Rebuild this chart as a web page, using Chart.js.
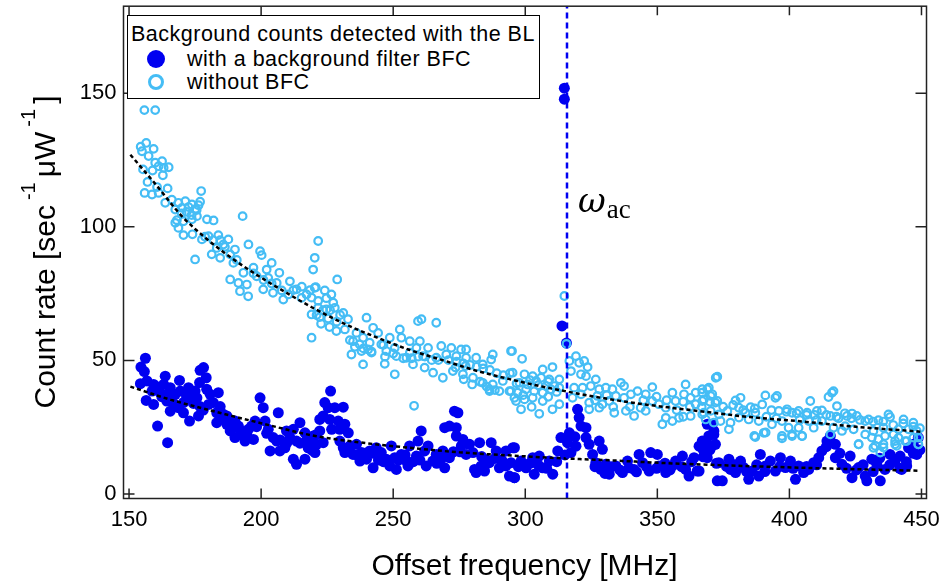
<!DOCTYPE html>
<html>
<head>
<meta charset="utf-8">
<script src="https://cdn.jsdelivr.net/npm/chart.js@4.4.1/dist/chart.umd.min.js"></script>
<style>
  body { margin: 0; background: #fff; }
  #wrap { position: relative; width: 943px; height: 581px; overflow: hidden; }
  #plot { position: absolute; left: 0; top: 0; }
  .txt { position: absolute; font-family: "Liberation Sans", Arial, sans-serif; color: #000; white-space: nowrap; }
  #legend { position: absolute; left: 127px; top: 15px; width: 411px; height: 82px; border: 1px solid #000; background: #fff; }
  #legend .txt { font-size: 21.5px; line-height: 22px; letter-spacing: 0.5px; }
  .dot { position: absolute; border-radius: 50%; box-sizing: border-box; }
  #ytitle { left: -165px; top: 232px; width: 420px; height: 40px; line-height: 40px; font-size: 30px; text-align: center; transform: rotate(-90deg); }
  #ytitle sup { font-size: 20px; vertical-align: baseline; position: relative; top: -20px; margin: 0 5px 0 5px; }
  #xtitle { left: 123px; top: 549px; width: 803px; font-size: 30px; line-height: 32px; text-align: center; }
  #omega { left: 578px; top: 180px; font-family: "DejaVu Serif", "Liberation Serif", serif; font-size: 34px; }
  #omega i { font-style: italic; }
  #omega span { font-family: "Liberation Serif", serif; font-size: 27px; position: relative; top: 6px; margin-left: 1px; }
</style>
</head>
<body>
<div id="wrap">
  <canvas id="plot" width="943" height="581"></canvas>
  <div id="legend">
    <div class="txt" style="left:3px;top:7px;">Background counts detected with the BL</div>
    <div class="dot" style="left:19px;top:34px;width:18px;height:18px;background:#0000f0;"></div>
    <div class="txt" style="left:59px;top:32px;">with a background filter BFC</div>
    <div class="dot" style="left:20px;top:58px;width:16px;height:16px;border:3px solid #45bdf5;"></div>
    <div class="txt" style="left:59px;top:55px;">without BFC</div>
  </div>
  <div id="ytitle" class="txt">Count rate [sec<sup>-1</sup>μW<sup>-1</sup>]</div>
  <div id="xtitle" class="txt">Offset frequency [MHz]</div>
  <div id="omega" class="txt"><i>ω</i><span>ac</span></div>
</div>
<script>
// axis ranges and ticks
const X_MIN = 147.9, X_MAX = 451.9;
const Y_MIN = -1.7, Y_MAX = 182.6;
const xTicks = [150, 200, 250, 300, 350, 400, 450];
const yTicks = [0, 50, 100, 150];

// acoustic frequency marker
const OMEGA_AC = 315.8;

// with a background filter BFC (filled)
const freqWithBFC = [
  156.2,154.5,155.8,154.3,156.8,159.3,156.5,159.3,160.8,164.6,
  158.7,161.8,163.7,163.1,165.6,164.3,165.6,167.5,169.1,169.4,
  170.6,168.7,170.6,172.5,173.8,175.0,175.7,172.9,176.3,176.9,
  178.2,176.7,179.2,179.4,180.7,180.1,181.9,183.8,183.2,183.2,
  185.7,187.0,187.0,188.3,190.1,191.4,190.1,192.7,193.9,195.2,
  196.4,197.1,197.7,199.6,200.8,201.5,206.5,202.7,204.6,203.4,
  205.9,207.1,209.0,209.6,212.2,214.7,210.9,213.4,216.6,217.8,
  212.2,213.4,216.6,219.7,221.0,222.2,
  226.3,224.1,225.4,227.9,231.1,223.5,226.0,229.2,231.7,229.8,
  233.0,226.7,222.2,219.7,221.0,220.4,223.5,229.8,231.1,233.6,
  236.1,231.7,234.8,238.0,237.4,239.9,242.4,241.1,243.6,245.5,
  247.4,249.3,248.7,251.2,250.6,253.1,255.0,256.2,255.6,258.8,
  259.4,260.6,261.9,263.2,262.5,265.0,266.3,268.8,269.5,271.3,
  269.5,271.3,273.9,273.2,274.5,273.9,276.4,275.8,277.6,280.2,
  278.9,282.7,280.8,283.3,281.4,284.6,286.4,287.1,289.0,290.2,
  292.7,292.7,295.9,294.0,295.9,
  295.3,294.6,295.9,298.4,300.3,302.8,305.3,306.6,303.4,309.1,
  310.4,312.3,313.5,316.7,316.0,317.3,319.2,319.8,320.4,321.1,
  323.0,323.0,324.2,325.5,328.0,329.2,326.7,328.6,330.5,331.8,
  334.3,336.8,338.7,339.3,341.2,343.1,344.4,346.9,347.5,350.0,
  350.6,353.2,355.7,356.9,359.5,360.7,362.0,363.9,365.1,365.8,
  367.0,369.5,370.8,372.0,372.7,
  368.3,371.4,370.8,368.9,365.8,374.6,373.3,377.1,377.7,379.6,
  381.5,382.7,384.6,385.9,389.0,388.4,390.9,392.8,394.7,396.6,
  398.5,400.4,402.3,403.5,405.4,407.3,409.2,411.1,412.3,414.2,
  415.5,417.4,417.4,419.9,423.0,423.7,426.2,428.7,429.3,431.2,
  433.1,434.4,436.2,438.1,440.0,441.9,442.5,444.4,445.1,446.9,
  448.8,448.2,
  314.8,314.8,313.9,315.6,368.9,371.4,
  160.5,162.4,164.9,166.8,171.8,174.4,176.9,178.1,184.5,185.7,
  189.5,192.0,194.6,198.3,202.1,207.2,209.7,214.7,217.3,219.2,
  233.6,236.2,239.3,242.5,244.4,246.3,252.0,254.5,257.6,260.1,
  266.5,268.3,272.8,275.3,283.5,285.4,288.5,291.1,
  297.4,301.8,304.9,308.1,311.9,315.0,318.8,326.4,330.2,332.7,
  335.8,342.1,345.9,349.7,352.9,354.8,359.2,363.0,367.4,369.9,
  367.4,369.9,372.4,376.2,379.3,383.8,387.6,390.7,396.4,401.4,
  406.5,410.3,414.0,419.1,421.6,425.4,427.9,431.7,434.2,438.0,
  441.8,444.3,446.9,449.4
];
const rateWithBFC = [
  50.8,47.5,45.8,41.3,42.3,41.0,35.0,33.5,25.4,19.2,
  38.5,37.9,44.1,41.0,39.8,34.8,31.0,37.3,42.5,38.5,
  34.2,32.3,30.4,39.8,37.3,38.5,36.0,27.3,29.2,46.3,
  47.3,41.7,43.5,39.2,37.3,33.5,34.2,37.9,30.4,26.7,
  29.8,29.2,26.1,23.6,27.3,25.4,21.1,22.3,19.8,24.2,
  25.4,20.4,27.3,36.0,32.3,27.3,30.4,24.2,21.1,16.1,
  19.8,16.1,17.3,23.6,24.2,26.7,21.1,19.8,22.9,17.3,
  13.0,11.1,13.0,19.8,22.3,27.9,
  38.5,34.2,32.3,32.3,32.5,29.2,27.9,27.3,26.1,24.2,
  22.9,24.2,23.6,21.7,18.6,15.5,19.2,19.8,17.3,18.0,
  18.6,15.5,14.8,15.5,12.3,13.0,9.8,16.1,17.3,15.5,
  13.0,18.0,10.5,9.2,13.6,14.8,12.3,18.0,10.5,14.2,
  19.8,23.6,16.1,18.0,10.5,12.3,14.8,16.1,9.8,13.6,
  24.8,25.4,24.8,31.0,30.4,21.7,20.4,18.0,14.8,15.5,
  18.6,19.2,9.2,10.5,8.0,8.6,11.7,19.2,16.1,9.8,
  16.1,10.5,17.3,6.7,6.1,
  17.3,11.7,6.1,12.3,9.8,13.6,14.2,9.8,7.4,12.3,
  7.4,16.1,21.1,22.9,19.2,15.5,17.9,31.7,28.6,25.4,
  24.8,21.1,18.6,14.8,19.8,16.7,11.7,9.2,11.1,7.4,
  10.5,8.0,12.3,9.8,9.2,14.8,11.7,8.6,15.5,14.8,
  10.5,8.0,10.5,12.3,14.2,9.2,6.7,13.6,8.6,17.9,
  19.8,21.7,26.1,18.6,4.9,
  18.6,22.3,18.0,13.6,8.6,4.9,11.7,13.0,9.2,8.0,
  12.3,9.9,5.5,8.6,14.8,6.7,10.5,12.3,8.6,13.6,
  9.9,12.3,5.5,10.5,8.0,9.2,11.7,13.6,16.1,19.8,
  21.7,18.6,13.6,11.1,14.2,6.1,9.9,6.7,4.9,13.0,
  11.1,4.9,9.2,14.8,12.3,14.2,9.2,10.5,17.3,18.6,
  21.1,14.8,
  151.9,147.8,62.9,56.5,26.1,23.6,
  40.1,36.4,37.6,33.9,36.4,33.9,32.7,31.4,32.7,28.9,
  25.2,23.9,22.1,25.2,22.7,20.2,19.0,19.0,20.2,16.4,
  15.8,14.6,15.2,15.2,12.7,12.1,12.7,14.6,12.1,12.7,
  11.5,13.3,15.8,15.8,14.0,12.7,13.3,12.7,
  10.2,11.5,10.8,9.6,12.1,14.6,21.4,10.2,7.7,10.2,
  9.0,8.3,10.2,9.6,11.5,9.0,10.2,12.1,13.9,17.7,
  16.5,16.5,11.5,10.3,10.9,8.4,10.9,8.4,10.3,9.6,
  10.3,10.9,17.7,15.2,9.6,9.0,10.9,8.4,13.4,10.9,
  9.6,12.1,15.2,16.5
];

// without BFC (open)
const freqNoBFC = [
  155.8,159.9,154.4,156.5,159.3,154.9,157.4,159.9,162.5,165.0,
  163.1,161.2,155.3,158.9,162.8,157.0,160.6,164.6,155.9,158.7,
  161.2,177.3,163.7,166.2,168.7,171.3,173.8,176.3,167.5,170.0,
  172.5,175.0,176.9,167.5,170.6,168.7,173.8,175.7,170.6,174.0,
  179.5,182.0,193.0,177.6,180.1,183.8,187.6,185.7,183.2,190.1,
  181.3,184.5,175.0,188.3,189.5,195.2,199.6,200.2,204.0,206.9,
  202.1,197.1,193.3,188.3,191.4,194.6,198.3,202.7,205.9,210.9,
  192.0,195.1,200.8,204.5,207.8,210.3,213.4,217.2,220.3,219.7,
  220.3,221.6,215.3,208.4,
  228.8,220.7,224.1,226.6,219.1,221.6,224.7,227.3,227.9,224.7,
  221.6,231.1,219.1,222.2,222.7,225.9,219.1,228.5,231.7,232.9,
  239.9,236.1,238.6,234.8,237.3,241.1,242.4,244.3,240.5,234.2,
  238.0,241.8,245.5,248.7,247.4,250.6,252.5,253.1,256.3,260.1,
  258.8,259.4,260.7,266.3,251.2,255.0,246.8,238.6,250.6,256.3,
  261.3,263.2,266.3,268.2,272.0,275.7,277.6,270.1,273.9,277.6,
  281.4,283.9,287.1,287.7,294.6,257.5,261.9,265.1,268.8,272.6,
  276.4,280.2,283.9,287.7,291.5,294.0,295.9,286.5,290.2,286.4,
  279.9,276.7,273.6,277.4,257.9,314.8,315.6,
  295.0,298.8,295.2,299.7,302.8,306.6,310.3,306.0,309.1,312.9,
  297.8,300.9,304.1,307.9,311.0,294.6,297.1,300.3,303.4,306.6,
  309.7,312.9,296.5,299.7,302.8,306.6,298.4,305.3,310.3,312.9,
  316.7,320.4,319.2,322.3,323.6,317.3,321.1,323.0,326.7,318.5,
  321.7,324.8,328.0,330.5,333.0,336.2,337.4,317.9,321.1,324.2,
  327.3,329.2,331.8,334.3,337.4,340.0,342.5,345.6,348.1,324.2,
  328.0,333.7,338.1,341.2,343.7,345.6,348.1,350.6,353.2,356.9,
  360.1,360.7,355.7,362.6,364.5,367.0,369.5,370.2,367.6,364.5,
  353.2,351.9,355.7,358.2,362.6,367.0,372.1,372.7,
  372.7,367.0,368.9,370.8,372.0,367.0,367.6,370.2,373.3,376.5,
  379.6,381.5,380.9,383.4,385.3,389.7,390.9,395.3,394.7,387.1,
  388.4,384.6,380.9,377.7,371.4,373.9,368.3,377.1,387.1,390.3,
  393.4,396.0,399.1,401.0,403.5,406.7,407.9,410.4,412.3,397.2,
  399.7,397.2,401.0,404.8,403.5,407.3,409.2,412.3,414.8,416.7,
  416.1,418.0,415.5,418.6,421.8,423.7,425.5,421.1,416.7,419.9,
  424.3,428.7,430.0,433.7,437.5,438.1,435.6,431.8,428.7,431.2,
  426.2,433.7,436.2,439.4,443.2,446.9,441.3,445.1,448.2,440.0,
  443.8,448.8,440.6,448.8,432.5,435.6,386.7,391.0,397.2,401.0,
  404.8,415.5,426.2,434.4,431.8,435.6,440.0,444.4,448.8,441.3,446.9,
  233.6,235.5,238.7,241.8,246.3,250.0,246.9,253.8,257.0,259.5,
  262.0,264.6,267.1,270.9,274.0,276.5,279.1,281.6,284.1,286.6,
  289.2,291.7,294.2,285.4,288.5,282.9,
  171.8,173.7,175.6,169.9,168.1,178.8,181.9,184.5,186.3,190.8,
  197.1,200.9,204.0,212.2,215.4,218.5,
  296.7,301.8,304.9,308.7,311.9,299.2,308.7,302.4,326.4,330.8,
  333.3,339.6,344.7,349.7,353.5,359.8,362.3,366.8,369.9,357.3,359.8,
  374.9,378.7,382.5,386.9,393.2,398.9,402.7,406.5,409.6,414.0,
  417.8,421.0,423.5,426.7,431.7,435.5,439.3,443.1,446.9,449.4,
  391.3,395.1,403.9,410.3,226.1,229.9,223.5,221.0,225.4,228.6
];
const rateNoBFC = [
  143.7,143.7,130.0,131.4,129.2,128.3,126.5,124.0,124.6,122.3,
  122.1,122.7,121.5,121.1,119.3,116.8,114.9,114.4,112.7,112.1,
  112.7,113.4,109.0,110.2,109.0,109.6,108.4,108.1,106.5,107.1,
  107.4,106.5,109.4,101.5,102.1,99.6,102.8,104.0,96.9,97.2,
  102.8,102.4,104.0,95.3,96.5,96.9,95.3,93.4,92.1,91.5,
  89.7,88.4,87.8,89.7,86.5,93.4,90.9,89.4,86.5,82.8,
  84.0,84.7,82.8,80.3,79.0,78.4,81.5,80.9,79.0,79.6,
  75.9,74.0,76.6,75.3,76.2,74.7,76.6,74.7,77.2,84.0,
  88.4,94.7,73.4,72.8,
  80.3,77.4,76.2,74.7,73.5,72.3,73.3,71.6,69.7,69.1,
  69.7,67.8,67.2,66.2,63.7,62.5,58.5,61.0,61.6,65.4,
  66.0,60.3,58.5,57.2,56.0,56.6,62.2,60.3,54.1,52.2,
  53.5,52.9,56.0,58.5,53.5,54.7,61.6,58.5,57.2,57.2,
  54.7,64.7,65.4,64.1,51.6,51.0,48.7,48.5,44.8,52.9,
  51.6,54.7,51.0,55.4,54.7,54.1,54.1,52.2,51.6,51.0,
  51.0,48.5,50.3,52.2,53.5,48.5,47.3,45.4,43.5,46.0,
  44.8,43.5,41.6,41.0,42.3,38.5,36.0,38.5,38.5,39.2,
  41.0,42.9,47.3,47.9,33.0,74.1,56.2,
  53.5,50.6,45.4,44.8,44.1,46.6,47.5,43.5,42.9,42.9,
  41.6,41.0,42.3,40.4,40.4,38.5,37.9,39.2,38.5,37.9,
  39.2,39.8,34.8,35.4,36.0,34.8,31.7,30.0,31.7,33.6,
  49.8,49.1,51.6,49.8,47.5,46.0,44.8,44.1,42.9,39.8,
  39.8,40.4,39.2,39.8,39.2,41.6,40.4,36.0,37.3,34.2,
  36.7,33.6,34.8,36.7,36.0,37.3,38.5,37.3,40.0,31.7,
  32.3,30.4,31.1,29.2,32.3,31.1,34.8,33.6,32.3,34.8,
  37.3,41.0,37.9,36.0,37.9,39.2,39.8,36.7,35.4,33.6,
  28.5,26.1,27.3,28.5,29.2,29.8,43.5,34.8,
  43.9,37.9,39.2,37.3,34.2,34.8,30.4,31.1,29.8,31.1,
  35.0,36.0,32.3,30.4,32.5,33.5,36.9,36.7,36.0,30.4,
  27.3,27.9,28.6,26.7,26.7,27.3,27.9,24.2,21.3,22.9,
  26.1,31.1,31.7,30.4,31.1,30.4,34.8,31.1,31.3,27.3,
  24.8,20.8,21.7,21.7,24.8,27.3,24.8,27.3,36.3,38.5,
  37.9,32.9,29.2,28.3,29.2,30.1,29.2,25.4,24.8,23.6,
  24.2,27.3,27.9,27.6,29.8,28.8,24.8,23.6,22.3,21.1,
  18.6,20.5,21.7,22.3,27.9,26.7,24.2,24.2,23.6,19.8,
  19.8,21.1,18.0,18.6,18.0,17.4,21.7,23.0,21.7,22.3,
  21.7,22.3,18.6,15.5,17.3,18.6,18.6,19.8,18.6,21.1,21.1,
  57.6,55.1,54.5,53.3,55.8,52.6,51.4,50.8,50.8,51.4,
  51.4,50.1,50.1,50.1,49.5,48.9,48.3,47.6,47.0,46.4,
  45.2,44.5,45.2,40.2,38.9,42.0,
  105.6,104.4,106.3,105.0,102.5,96.3,95.0,95.0,92.5,87.6,
  82.6,80.1,78.8,76.3,77.6,76.3,
  41.4,42.6,40.7,42.0,38.2,37.0,36.4,32.6,35.1,37.0,
  32.6,32.6,35.1,36.4,35.1,34.5,32.6,32.6,34.5,31.4,28.9,
  32.7,33.3,31.4,32.0,31.4,30.8,30.2,29.6,29.6,29.6,
  28.9,30.2,28.3,27.7,27.1,27.1,25.8,26.4,25.2,24.6,
  28.9,28.3,27.7,27.7,68.8,67.0,68.8,67.0,65.7,64.5
];

// fitted trends
const fitNoX = [150.5,160,170,180,190,200,211,219,232,244,256,269,282,294,305,315,330,344,366,385,404,427,450];
const fitNoY = [127,116,104,95,87.5,81,74.5,70,63.5,58.5,54,50,46,43,40.5,38.5,35.8,33.7,31,28.8,27.2,25,23.3];
const fitWithX = [150.5,165,185,200,220,240,256,275,298,315,332,352,373,395,416,440,449];
const fitWithY = [40.2,35.5,30.2,26.5,21.8,19.0,17.3,15.6,14.2,13.3,12.6,11.6,10.8,10.1,9.5,8.9,8.7];

const BLUE = "#0000f0";
const LIGHT = "#45bdf5";
const tickFont = { family: "'Liberation Sans', Arial, sans-serif", size: 22 };

const pts = (xs, ys) => xs.map((x, i) => ({ x: x, y: ys[i] }));

// kill Chart.js auto padding so the plot box lands where the reference has it
const noPad = s => { s.paddingLeft = 0; s.paddingRight = 0; s.paddingTop = 0; s.paddingBottom = 0; };

// frame + inward ticks on all four sides
const framePlugin = {
  id: "frame",
  afterDatasetsDraw(chart) {
    const { ctx, chartArea: a, scales: { x, y } } = chart;
    ctx.save();
    ctx.strokeStyle = "#222";
    ctx.lineWidth = 1.5;
    ctx.strokeRect(a.left, a.top, a.right - a.left, a.bottom - a.top);
    ctx.beginPath();
    xTicks.forEach(v => {
      const p = x.getPixelForValue(v);
      ctx.moveTo(p, a.bottom); ctx.lineTo(p, a.bottom - 10);
      ctx.moveTo(p, a.top); ctx.lineTo(p, a.top + 9);
    });
    yTicks.forEach(v => {
      const p = y.getPixelForValue(v);
      ctx.moveTo(a.left, p); ctx.lineTo(a.left + 11, p);
      ctx.moveTo(a.right, p); ctx.lineTo(a.right - 11, p);
    });
    ctx.stroke();
    ctx.restore();
  }
};

new Chart(document.getElementById("plot").getContext("2d"), {
  type: "scatter",
  data: {
    datasets: [
      {
        label: "omega_ac",
        data: [{ x: OMEGA_AC, y: Y_MIN }, { x: OMEGA_AC, y: Y_MAX }],
        showLine: true, borderColor: BLUE, borderWidth: 2.5, borderDash: [6, 4],
        pointRadius: 0, order: 0
      },
      {
        label: "fit without",
        data: pts(fitNoX, fitNoY),
        showLine: true, borderColor: "#000", borderWidth: 2.5, borderDash: [4, 3],
        cubicInterpolationMode: "monotone", pointRadius: 0, order: 0
      },
      {
        label: "fit with",
        data: pts(fitWithX, fitWithY),
        showLine: true, borderColor: "#000", borderWidth: 2.5, borderDash: [4, 3],
        cubicInterpolationMode: "monotone", pointRadius: 0, order: 0
      },
      {
        label: "without BFC",
        data: pts(freqNoBFC, rateNoBFC),
        pointRadius: 3.8, pointBorderWidth: 2.2, pointBorderColor: LIGHT,
        pointBackgroundColor: "rgba(255,255,255,0)", order: 1
      },
      {
        label: "with a background filter BFC",
        data: pts(freqWithBFC, rateWithBFC),
        pointRadius: 5.5, pointBorderWidth: 0, pointBackgroundColor: BLUE, order: 2
      }
    ]
  },
  options: {
    responsive: false,
    animation: false,
    devicePixelRatio: 1,
    events: [],
    layout: { padding: { top: 6, right: 16.5, left: 0, bottom: 0 } },
    plugins: { legend: { display: false }, tooltip: { enabled: false } },
    scales: {
      x: {
        type: "linear", min: X_MIN, max: X_MAX,
        afterBuildTicks: s => { s.ticks = xTicks.map(v => ({ value: v })); },
        afterFit: s => { s.height = 82.5; noPad(s); },
        grid: { display: false, drawTicks: false },
        border: { display: false },
        ticks: { font: tickFont, color: "#000", padding: 8, maxRotation: 0, autoSkip: false }
      },
      y: {
        type: "linear", min: Y_MIN, max: Y_MAX,
        afterBuildTicks: s => { s.ticks = yTicks.map(v => ({ value: v })); },
        afterFit: s => { s.width = 123.5; noPad(s); },
        grid: { display: false, drawTicks: false },
        border: { display: false },
        ticks: { font: tickFont, color: "#000", padding: 7, autoSkip: false }
      }
    }
  },
  plugins: [framePlugin]
});
</script>
</body>
</html>
